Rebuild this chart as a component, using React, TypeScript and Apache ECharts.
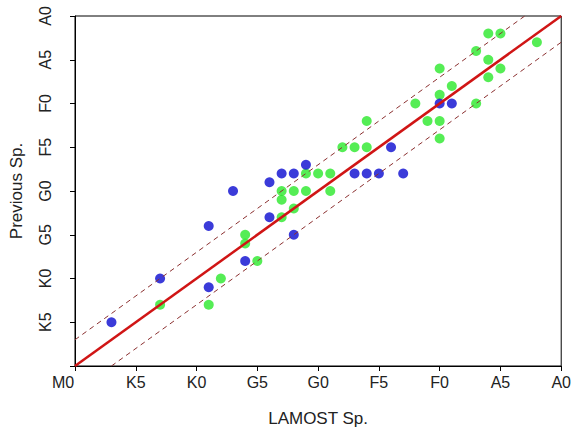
import React, { useEffect, useRef } from "react";
import * as echarts from "echarts";

// Spectral subtype scale: M0=0, K5=5, K0=10, G5=15, G0=20, F5=25, F0=30, A5=35, A0=40
const tickValues = [0, 5, 10, 15, 20, 25, 30, 35, 40];
const tickLabels = ["M0", "K5", "K0", "G5", "G0", "F5", "F0", "A5", "A0"];

// [LAMOST Sp., Previous Sp.]
const bluePoints = [
  [3, 5], [7, 10], [11, 9], [11, 16], [13, 20], [14, 12], [16, 17], [16, 21],
  [17, 22], [18, 22], [18, 15], [19, 23], [23, 22], [24, 22], [25, 22],
  [26, 25], [27, 22], [30, 30], [31, 30],
];
const greenPoints = [
  [7, 7], [11, 7], [12, 10], [14, 14], [14, 15], [15, 12], [17, 17], [17, 19],
  [17, 20], [18, 18], [18, 20], [19, 20], [19, 22], [20, 22], [21, 22], [21, 20],
  [22, 25], [23, 25], [24, 25], [24, 28], [28, 30], [29, 28], [30, 28], [30, 26],
  [30, 31], [30, 34], [31, 32], [33, 30], [33, 36], [34, 33], [34, 35], [34, 38],
  [35, 34], [35, 38], [38, 37],
];
const identityLine = [[0, 0], [40, 40]];
const upperLine = [[0, 3], [37, 40]];
const lowerLine = [[3, 0], [40, 37]];

const FONT = "'Liberation Sans', Arial, sans-serif";

function labelFor(v: number) {
  const i = tickValues.indexOf(v);
  return i >= 0 ? tickLabels[i] : "";
}

export default function App() {
  const ref = useRef<HTMLDivElement>(null);
  useEffect(() => {
    if (!ref.current) return;
    const chart = echarts.init(ref.current, undefined, { renderer: "svg" });
    chart.setOption({
      animation: false,
      backgroundColor: "#ffffff",
      grid: {
        left: 74,
        top: 16,
        right: 11,
        bottom: 63,
        show: true,
        borderColor: "#000",
        borderWidth: 1,
        backgroundColor: "transparent",
      },
      xAxis: {
        type: "value",
        min: 0,
        max: 40,
        interval: 5,
        name: "LAMOST Sp.",
        nameLocation: "middle",
        nameGap: 44,
        nameTextStyle: { fontFamily: FONT, fontSize: 17, color: "#222" },
        splitLine: { show: false },
        axisLine: { show: true, lineStyle: { color: "#000", width: 1 } },
        axisTick: { show: true, length: 5, inside: false, lineStyle: { color: "#000" } },
        axisLabel: {
          show: true,
          fontFamily: FONT,
          fontSize: 16,
          color: "#222",
          margin: 8,
          formatter: (v: number) => (v === 0 ? "{m|M0}" : labelFor(v)),
          rich: {
            m: { fontFamily: FONT, fontSize: 16, color: "#222", padding: [0, 24, 0, 0] },
          },
        },
      },
      yAxis: {
        type: "value",
        min: 0,
        max: 40,
        interval: 5,
        name: "Previous Sp.",
        nameLocation: "middle",
        nameGap: 50,
        nameTextStyle: { fontFamily: FONT, fontSize: 17, color: "#222" },
        splitLine: { show: false },
        axisLine: { show: true, lineStyle: { color: "#000", width: 1 } },
        axisTick: { show: true, length: 5, inside: false, lineStyle: { color: "#000" } },
        axisLabel: {
          show: true,
          rotate: 90,
          fontFamily: FONT,
          fontSize: 16,
          color: "#222",
          margin: 22,
          formatter: (v: number) => (v === 0 ? "" : labelFor(v)),
        },
      },
      series: [
        {
          type: "scatter",
          data: greenPoints,
          symbol: "circle",
          symbolSize: 10,
          itemStyle: { color: "#2ae82a" },
          z: 2,
        },
        {
          type: "scatter",
          data: bluePoints,
          symbol: "circle",
          symbolSize: 10,
          itemStyle: { color: "#0a0ad0" },
          z: 2,
        },
        {
          type: "line",
          data: identityLine,
          symbol: "none",
          lineStyle: { color: "#d01515", width: 2.5 },
          z: 3,
        },
        {
          type: "line",
          data: upperLine,
          symbol: "none",
          lineStyle: { color: "#8b3030", width: 1, type: [5, 4] },
          z: 3,
        },
        {
          type: "line",
          data: lowerLine,
          symbol: "none",
          lineStyle: { color: "#8b3030", width: 1, type: [5, 4] },
          z: 3,
        },
      ],
    });
    return () => chart.dispose();
  }, []);
  return (
    <div
      ref={ref}
      style={{ position: "fixed", left: 0, top: 0, width: 574, height: 432, background: "#fff" }}
    />
  );
}
